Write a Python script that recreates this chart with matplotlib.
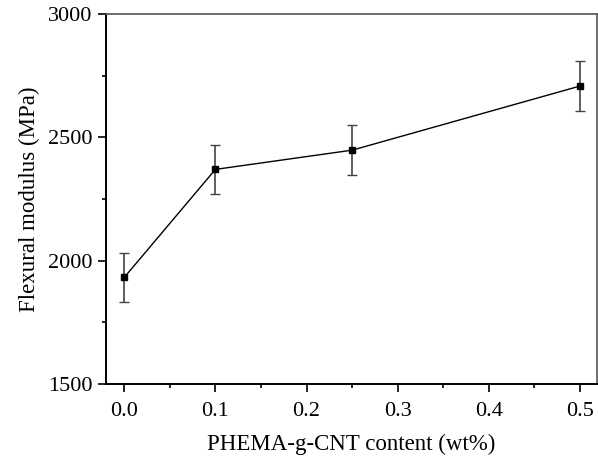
import numpy as np
import matplotlib
matplotlib.use('Agg')
import matplotlib.pyplot as plt
from matplotlib.ticker import MultipleLocator

content = [0.0, 0.1, 0.25, 0.5]
modulus = [1932, 2370, 2448, 2708]
err = [100, 100, 100, 100]

plt.rcParams['font.family'] = ['Liberation Serif', 'DejaVu Serif']

fig = plt.figure(figsize=(5.98, 4.57), dpi=100)
ax = fig.add_axes([106/598, 1 - 384/457, 491/598, 370/457])

ax.errorbar(content, modulus, yerr=err, fmt='s-', color='black', ms=4.5, lw=1,
            ecolor='#444444', elinewidth=1.2, capsize=3.5, capthick=1)

ax.set_xlim(-0.02, 0.5186)
ax.set_ylim(1500, 3000)
ax.xaxis.set_major_locator(MultipleLocator(0.1))
ax.xaxis.set_minor_locator(MultipleLocator(0.05))
ax.yaxis.set_major_locator(MultipleLocator(500))
ax.yaxis.set_minor_locator(MultipleLocator(250))
ax.xaxis.set_major_formatter(plt.FormatStrFormatter('%.1f'))
ax.tick_params(which='major', direction='out', length=6, width=1.2, labelsize=16)
ax.tick_params(axis='x', which='major', pad=7)
ax.tick_params(which='minor', direction='out', length=3, width=1.2)
for s in ['left', 'bottom']:
    ax.spines[s].set_linewidth(1.4)
for s in ['top', 'right']:
    ax.spines[s].set_linewidth(1.2)
    ax.spines[s].set_color('#555555')

ax.set_xlabel('PHEMA-g-CNT content (wt%)', fontsize=16.5, labelpad=9)
ax.set_ylabel('Flexural modulus (MPa)', fontsize=16.5, labelpad=6)

fig.savefig('out.png', dpi=100)
